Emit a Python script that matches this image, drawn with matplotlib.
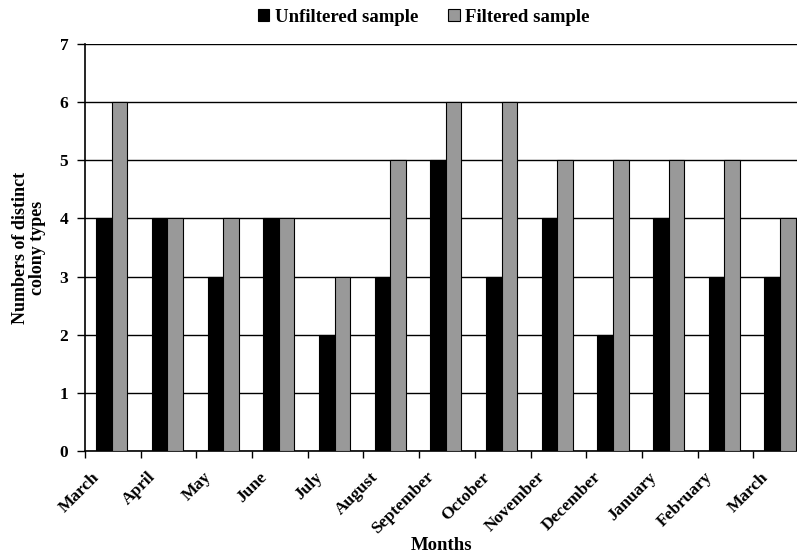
import matplotlib
matplotlib.use("Agg")
import matplotlib.pyplot as plt
import numpy as np

months = ["March", "April", "May", "June", "July", "August", "September",
          "October", "November", "December", "January", "February", "March"]
unfiltered = [4, 4, 3, 4, 2, 3, 5, 3, 4, 2, 4, 3, 3]
filtered = [6, 4, 4, 4, 3, 5, 6, 6, 5, 5, 5, 5, 4]

plt.rcParams['font.family'] = ['Liberation Serif', 'DejaVu Serif']
plt.rcParams['font.weight'] = 'bold'

fig = plt.figure(figsize=(7.97, 5.54), dpi=100)
ax = fig.add_axes([85/797, 1 - 451/554, 724/797, (451-44)/554])

x = np.arange(len(months))
w = 0.28
ax.bar(x + 0.2, unfiltered, width=w, align='edge', color='black',
       edgecolor='black', linewidth=0.8, label='Unfiltered sample', zorder=3)
ax.bar(x + 0.2 + w, filtered, width=w, align='edge', color='#999999',
       edgecolor='black', linewidth=0.8, label='Filtered sample', zorder=3)

ax.set_xlim(0, len(months))
ax.set_ylim(0, 7)
ax.set_yticks(range(0, 8))
ax.yaxis.grid(True, color='black', linewidth=1.0, zorder=0)
ax.set_axisbelow(True)

ax.set_xticks(np.arange(0, len(months) + 1))
ax.set_xticklabels([])
ax.set_xticks(x + 0.22, minor=True)
ax.set_xticklabels(months, minor=True, rotation=45, ha='right',
                   va='center', rotation_mode='anchor', fontsize=12.5,
                   fontweight='bold')
ax.tick_params(axis='x', which='minor', length=0, pad=17)
ax.tick_params(axis='x', which='major', length=5, width=1, direction='out')
ax.tick_params(axis='y', length=6, width=1, direction='out', labelsize=12.5,
               pad=6)
for lbl in ax.get_yticklabels():
    lbl.set_fontweight('bold')

ax.spines['right'].set_visible(False)
ax.spines['top'].set_visible(False)
ax.spines['left'].set_linewidth(1.2)
ax.spines['bottom'].set_linewidth(1.2)

ax.set_ylabel("Numbers of distinct\ncolony types", fontsize=13,
              fontweight='bold', labelpad=10, linespacing=1.0)
fig.text(442/797, 1 - 545/554, "Months", ha='center', va='center',
         fontsize=13.5, fontweight='bold')

leg = fig.legend(loc='center', bbox_to_anchor=(424/797, 1 - 17/554), ncol=2,
                 frameon=False, fontsize=13.5, handlelength=0.6,
                 handleheight=0.6, columnspacing=1.6, handletextpad=0.3)
for t in leg.get_texts():
    t.set_fontweight('bold')

fig.savefig("out.png", dpi=100)
